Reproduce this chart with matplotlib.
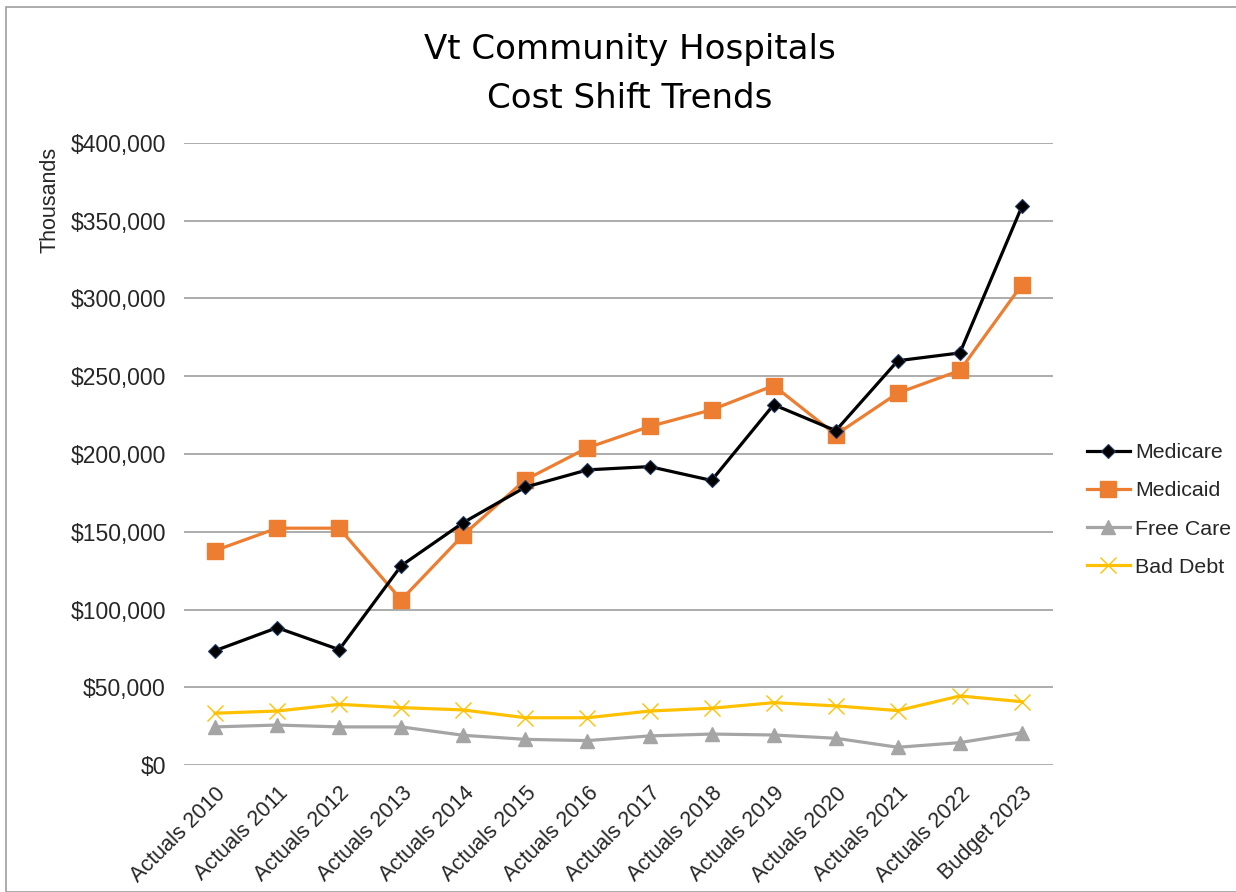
import numpy as np
import matplotlib.pyplot as plt
from matplotlib.patches import Rectangle
from matplotlib.ticker import FuncFormatter

categories = ['Actuals 2010', 'Actuals 2011', 'Actuals 2012', 'Actuals 2013',
              'Actuals 2014', 'Actuals 2015', 'Actuals 2016', 'Actuals 2017',
              'Actuals 2018', 'Actuals 2019', 'Actuals 2020', 'Actuals 2021',
              'Actuals 2022', 'Budget 2023']

# values in thousands
medicare = [73500, 88300, 74200, 128200, 155900, 178700, 189800, 191900,
            183000, 231700, 215000, 260000, 265000, 359300]
medicaid = [137900, 152300, 152300, 106200, 148000, 183400, 204000, 217700,
            228400, 244000, 212400, 239200, 253700, 308900]
free_care = [24500, 25700, 24500, 24500, 19100, 16500, 15700, 18700,
             19900, 19300, 17200, 11400, 14400, 20800]
bad_debt = [33300, 34700, 39000, 36900, 35400, 30400, 30400, 34700,
            36500, 40100, 38000, 35000, 44400, 40700]

plt.rcParams['font.family'] = ['Liberation Sans', 'DejaVu Sans']

fig = plt.figure(figsize=(12.36, 8.92), dpi=100)
ax = fig.add_axes([184/1236, 1-765/892, (1053-184)/1236, (765-143)/892])

x = np.arange(len(categories))
ax.plot(x, medicare, color='black', lw=2.3, marker='D', ms=7,
        mfc='black', mec='#1F3864', mew=0.8, label='Medicare', zorder=4)
ax.plot(x, medicaid, color='#ED7D31', lw=2.3, marker='s', ms=11,
        label='Medicaid', zorder=3)
ax.plot(x, free_care, color='#A5A5A5', lw=2.3, marker='^', ms=10,
        label='Free Care', zorder=3)
ax.plot(x, bad_debt, color='#FFC000', lw=2.3, marker='x', ms=12, mew=1.0,
        label='Bad Debt', zorder=3)

ax.set_xlim(-0.5, len(categories) - 0.5)
ax.set_ylim(0, 400000)
ax.set_yticks(np.arange(0, 400001, 50000))
ax.yaxis.set_major_formatter(FuncFormatter(lambda v, p: '${:,.0f}'.format(v)))
ax.set_xticks(x)
ax.set_xticklabels(categories, rotation=45, ha='right', rotation_mode='anchor')
ax.tick_params(axis='both', length=0, colors='#262626')
ax.tick_params(axis='x', pad=13, labelsize=15.5)
ax.tick_params(axis='y', pad=13, labelsize=16.5)
ax.grid(axis='y', color='#A6A6A6', lw=1.3)
ax.set_axisbelow(True)
for s in ax.spines.values():
    s.set_visible(False)

fig.text(50/1236, 1-200/892, 'Thousands', rotation=90, ha='center',
         va='center', fontsize=15.5, color='#262626')
fig.text(630/1236, 1-74/892, 'Vt Community Hospitals\nCost Shift Trends',
         ha='center', va='center', fontsize=24.5, linespacing=1.6,
         family=['DejaVu Sans'], color='black')

ax.legend(loc='center left', bbox_to_anchor=(1087/1236, 1-510/892),
          bbox_transform=fig.transFigure, frameon=False, borderpad=0,
          borderaxespad=0, fontsize=15.4, handlelength=2.0, labelspacing=0.9,
          handletextpad=0.25, labelcolor='#262626')

fig.add_artist(Rectangle((6/1236, 0), 1, 1-7/892, transform=fig.transFigure,
                         fill=False, ec='#9E9E9E', lw=1.2))

fig.savefig('out.png', dpi=100)
